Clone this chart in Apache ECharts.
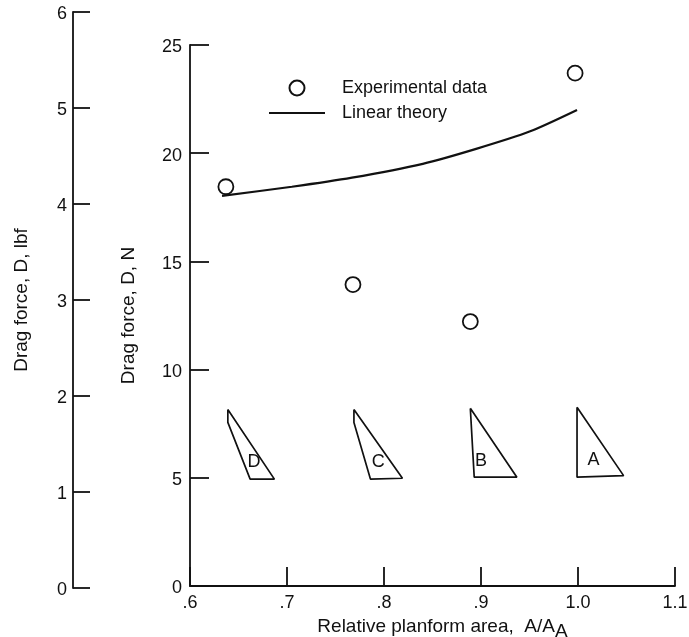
<!DOCTYPE html>
<html><head><meta charset="utf-8">
<style>html,body{margin:0;padding:0;background:#fff}#c{width:689px;height:637px}</style>
<script src="https://cdn.jsdelivr.net/npm/echarts@6/dist/echarts.min.js"></script>
</head><body><div id="c"></div>
<script>
const FONT = '"Liberation Sans",sans-serif';
const xTicks = [0.6, 0.7, 0.8, 0.9, 1.0, 1.1];
const xTickLabels = ['.6', '.7', '.8', '.9', '1.0', '1.1'];
const experimental = [[0.637, 18.45], [0.768, 13.93], [0.889, 12.22], [0.997, 23.7]];
const linearTheory = [[0.633, 18.03], [0.705, 18.45], [0.767, 18.87], [0.84, 19.51], [0.895, 20.2], [0.95, 21.0], [0.999, 22.0]];
const planformA = [[0.999, 8.26], [0.999, 5.03], [1.047, 5.1], [0.999, 8.26]];
const planformB = [[0.889, 8.21], [0.893, 5.03], [0.937, 5.03], [0.889, 8.21]];
const planformC = [[0.769, 8.16], [0.769, 7.56], [0.786, 4.94], [0.819, 4.98], [0.769, 8.16]];
const planformD = [[0.639, 8.16], [0.639, 7.56], [0.662, 4.94], [0.687, 4.94], [0.639, 8.16]];
const planformLabels = [['A', 1.016, 5.81], ['B', 0.9, 5.77], ['C', 0.794, 5.72], ['D', 0.666, 5.72]];

const ink = '#111';
const tickRich = {t:{fontFamily:FONT, fontSize:18, color:ink, padding:[5,0,0,0]}};
const planform = d => ({type:'line', data:d, xAxisIndex:0, yAxisIndex:0, symbol:'none', silent:true,
  lineStyle:{color:ink, width:1.7}});
const chart = echarts.init(document.getElementById('c'), null, {renderer:'canvas'});
chart.setOption({
  animation:false,
  backgroundColor:'#fff',
  textStyle:{fontFamily:FONT, color:ink},
  legend:{left:263, top:74, orient:'vertical', itemWidth:56, itemHeight:15, itemGap:7,
    data:[{name:'Experimental data'},{name:'Linear theory', itemStyle:{opacity:0}}],
    textStyle:{fontFamily:FONT, fontSize:18, color:ink, padding:[0,0,0,12]}},
  grid:[
    {left:190, top:45, width:485, height:541, outerBoundsMode:'none'},
    {left:73, top:12, width:60, height:576, outerBoundsMode:'none'}
  ],
  xAxis:[
    {gridIndex:0, type:'value', min:0.6, max:1.1, interval:0.1,
     axisLine:{lineStyle:{color:ink, width:1.8}},
     axisTick:{inside:true, length:19, lineStyle:{color:ink, width:1.8}},
     splitLine:{show:false},
     axisLabel:{fontFamily:FONT, fontSize:18, color:ink, margin:8,
       formatter:v=>xTickLabels[xTicks.findIndex(t=>Math.abs(t-v)<1e-6)]},
     name:'{a|Relative planform area,  A/A}{s|A}', nameLocation:'middle', nameGap:22,
     nameTextStyle:{padding:[0,0,0,20], rich:{a:{fontFamily:FONT,fontSize:19,color:ink},s:{fontFamily:FONT,fontSize:19,color:ink,padding:[10,0,0,0]}}}},
    {gridIndex:1, type:'value', min:0, max:1, show:false}
  ],
  yAxis:[
    {gridIndex:0, type:'value', min:0, max:25, interval:5,
     axisLine:{show:true, lineStyle:{color:ink, width:1.8}},
     axisTick:{show:true, inside:true, length:19, lineStyle:{color:ink, width:1.8}},
     splitLine:{show:false},
     axisLabel:{margin:8, formatter:'{t|{value}}', rich:tickRich},
     name:'Drag force, D, N', nameLocation:'middle', nameGap:52, nameRotate:90,
     nameTextStyle:{fontFamily:FONT, fontSize:19, color:ink}},
    {gridIndex:1, type:'value', min:0, max:6, interval:1,
     axisLine:{show:true, lineStyle:{color:ink, width:1.8}},
     axisTick:{show:true, inside:true, length:17, lineStyle:{color:ink, width:1.8}},
     splitLine:{show:false},
     axisLabel:{margin:6, formatter:'{t|{value}}', rich:tickRich},
     name:'Drag force, D, lbf', nameLocation:'middle', nameGap:42, nameRotate:90,
     nameTextStyle:{fontFamily:FONT, fontSize:19, color:ink}}
  ],
  series:[
    {name:'Experimental data', type:'scatter', data:experimental, symbol:'circle', symbolSize:15,
     itemStyle:{color:'#fff', borderColor:ink, borderWidth:1.8, opacity:1}, z:3},
    {name:'Linear theory', type:'line', data:linearTheory, smooth:0.25, symbol:'none',
     lineStyle:{color:ink, width:2.2}, itemStyle:{color:ink}},
    planform(planformA), planform(planformB), planform(planformC), planform(planformD),
    {type:'scatter', data:planformLabels.map(p=>[p[1],p[2],p[0]]), symbolSize:0, silent:true,
     itemStyle:{opacity:1},
     label:{show:true, position:'inside', formatter:p=>p.value[2], fontFamily:FONT, fontSize:18, color:ink}}
  ]
});
</script></body></html>
